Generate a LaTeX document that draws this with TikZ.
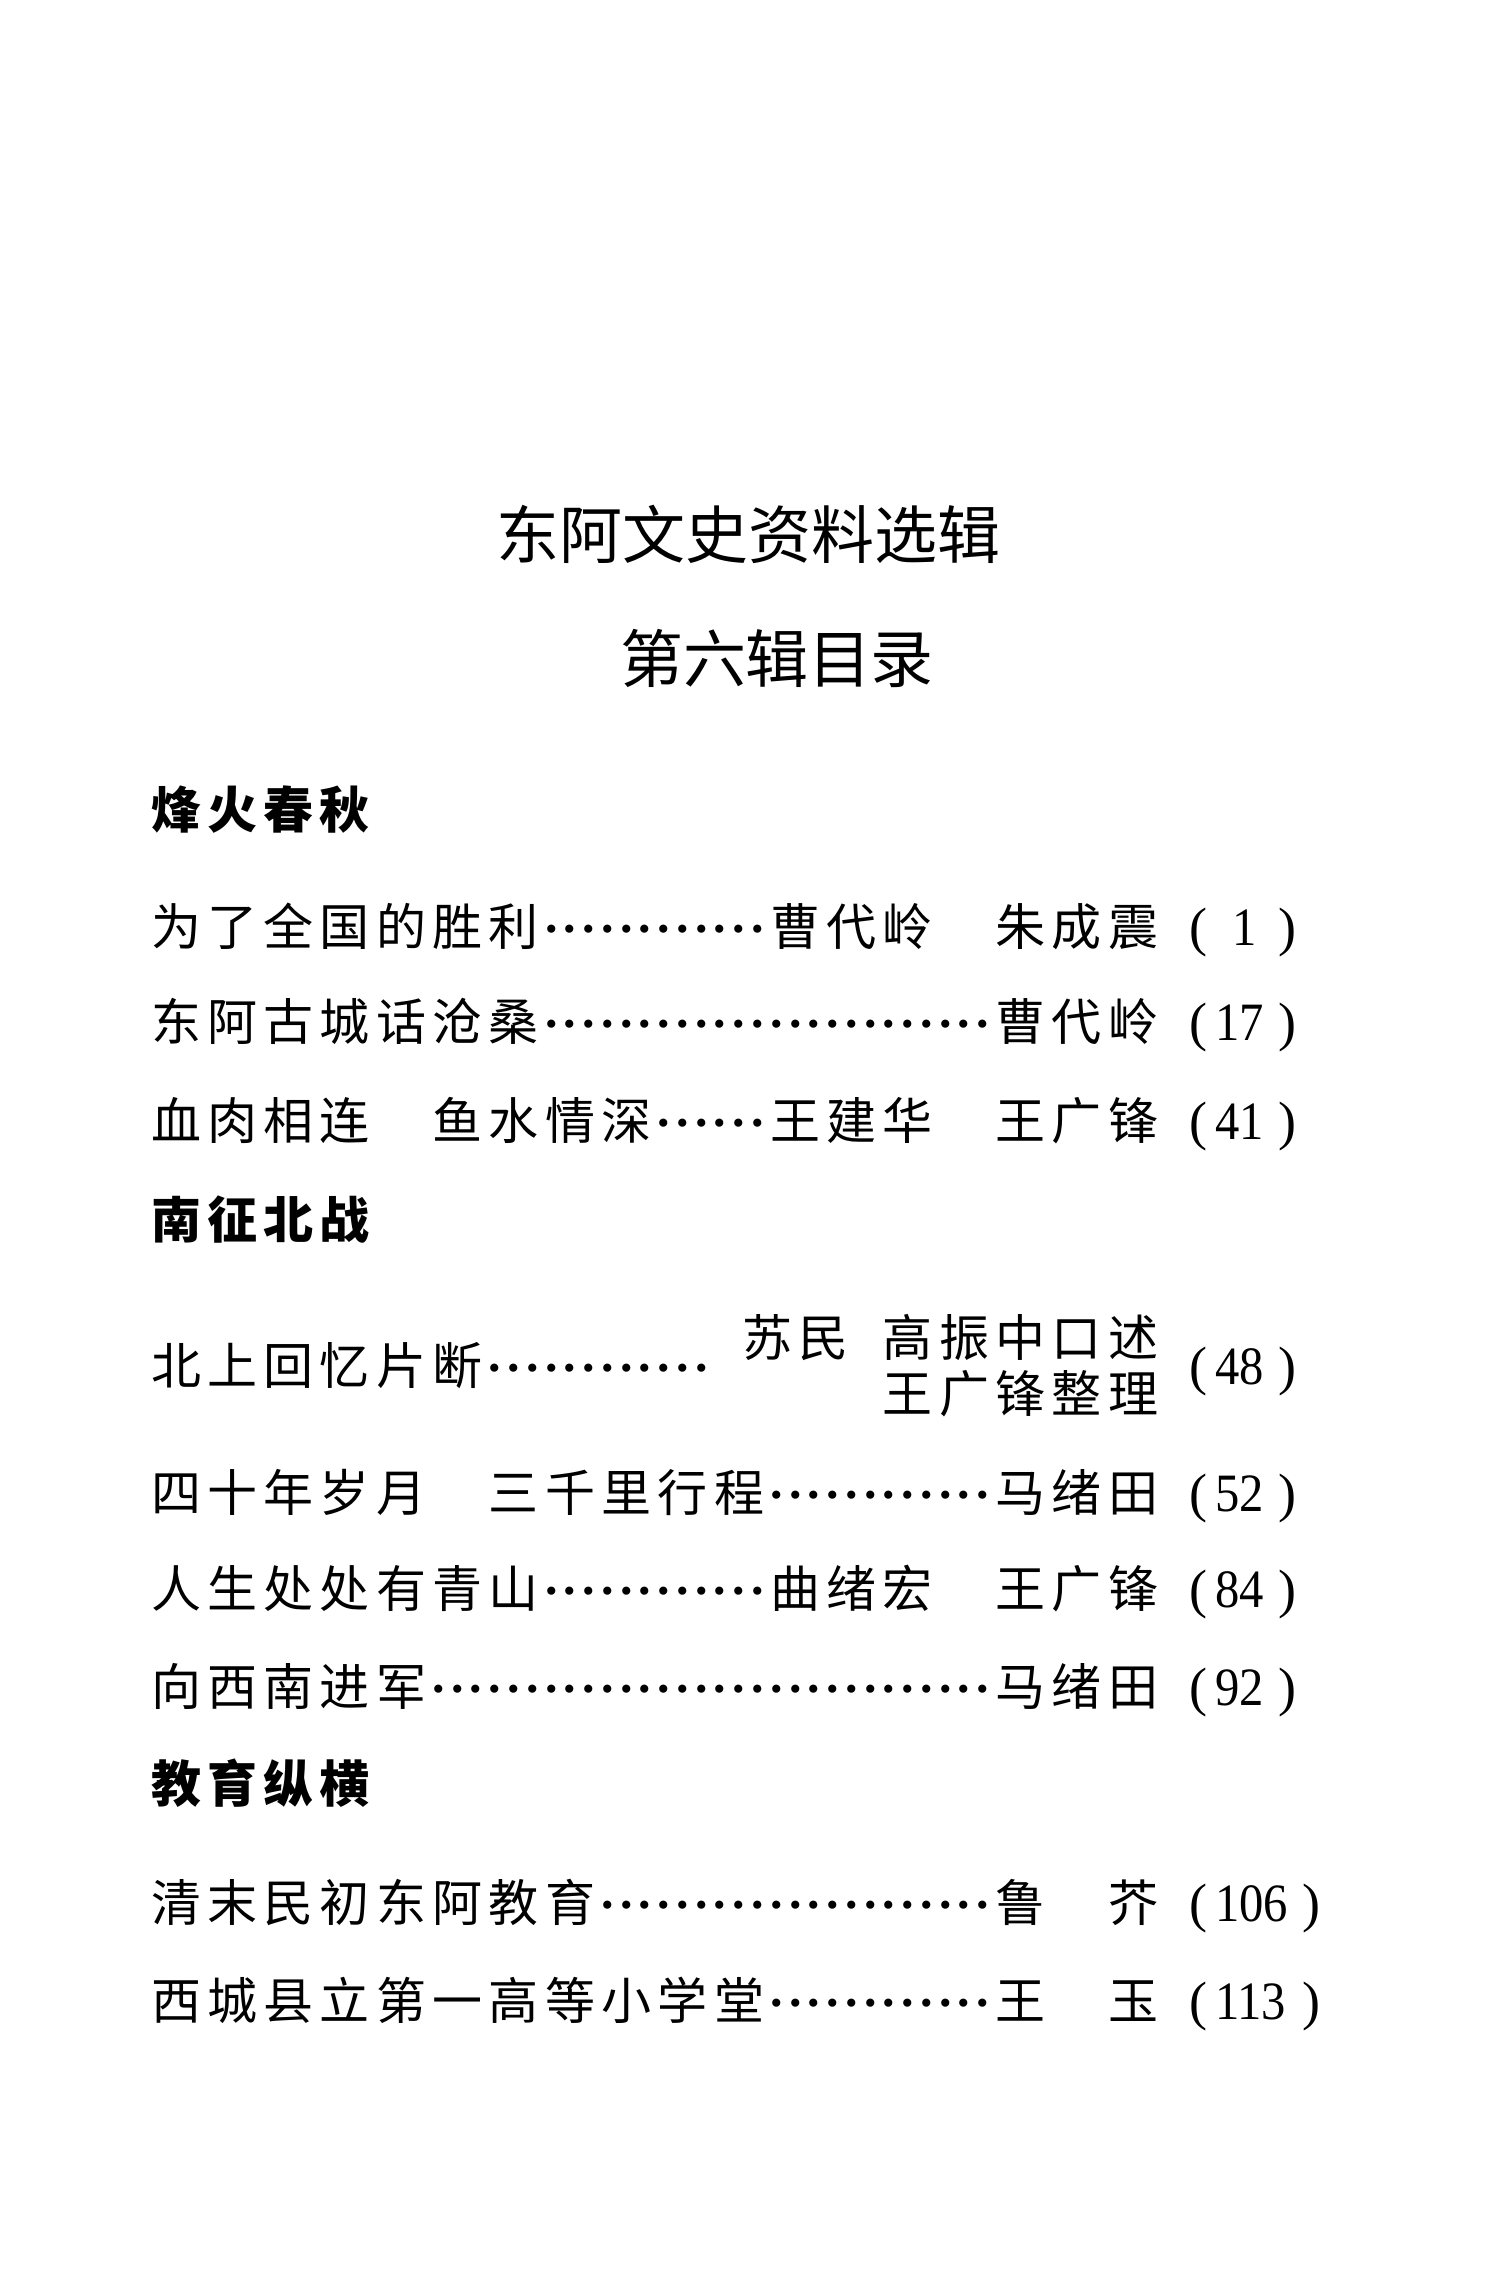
\documentclass[tikz,border=0pt]{standalone}
\usepackage{fontspec}
\newfontfamily\cjk{Noto Sans CJK SC}
\newfontfamily\lat{Liberation Serif}
\newlength\cw
\newlength\dw
\setlength\dw{9.3833pt}
\makeatletter
\newcommand\spaced[2]{\setlength\cw{#1}\sp@ced#2\relax}
\def\sp@ced#1{\ifx\relax#1\else\makebox[\cw][c]{#1}\expandafter\sp@ced\fi}
\makeatother
\newcommand\leaderdts[1]{\foreach\i in {1,...,#1}{\makebox[\dw][c]{.}}}
\tikzset{
  txt/.style={inner sep=0pt, outer sep=0pt, anchor=base west},
  body/.style={txt, font=\cjk\fontsize{25pt}{25pt}\selectfont},
  head/.style={txt, font=\cjk\bfseries\fontsize{25pt}{25pt}\selectfont},
  ttl/.style={inner sep=0pt, outer sep=0pt, anchor=base, font=\cjk\fontsize{31.5pt}{31.5pt}\selectfont},
  dotrow/.style={txt, font=\lat\bfseries\fontsize{25pt}{25pt}\selectfont},
  pn/.style={inner sep=0pt, outer sep=0pt, font=\lat\fontsize{27pt}{27pt}\selectfont},
}
% #1 name, #2 baseline y, #3 digits, #4 right paren x
\newcommand\pagenum[4]{%
  \node[pn, anchor=base west] (#1l) at (1189,#2) {(};
  \node[pn, anchor=base west] (#1n) at (1215,#2) {\scalebox{0.9}[1]{#3}};
  \node[pn, anchor=base east] (#1r) at (#4,#2) {)};
}
\begin{document}
\begin{tikzpicture}[x=0.5pt,y=-0.5pt]
\fill[white] (0,0) rectangle (1486,2269);
\useasboundingbox (0,0) rectangle (1486,2269);

% titles
\node[ttl] (title) at (748,558) {\spaced{31.5pt}{东阿文史资料选辑}};
\node[ttl] (subtitle) at (777,682) {\spaced{31.25pt}{第六辑目录}};

% section 1
\node[head] (h1) at (147.85,828) {\spaced{28.15pt}{烽火春秋}};

\node[body] (e1t) at (147.85,945) {\spaced{28.15pt}{为了全国的胜利}};
\node[dotrow] (e1d) at (541.95,932) {\leaderdts{12}};
\node[body] (e1a) at (767.15,945) {\spaced{28.15pt}{曹代岭　朱成震}};
\node[pn, anchor=base west] (e1l) at (1189,945) {(};
\node[pn, anchor=base] (e1n) at (1245,945) {\scalebox{0.9}[1]{1}};
\node[pn, anchor=base east] (e1r) at (1296,945) {)};

\node[body] (e2t) at (147.85,1040) {\spaced{28.15pt}{东阿古城话沧桑}};
\node[dotrow] (e2d) at (541.95,1027) {\leaderdts{24}};
\node[body] (e2a) at (992.35,1040) {\spaced{28.15pt}{曹代岭}};
\pagenum{e2}{1040}{17}{1296}

\node[body] (e3t) at (147.85,1139) {\spaced{28.15pt}{血肉相连　鱼水情深}};
\node[dotrow] (e3d) at (654.55,1126) {\leaderdts{6}};
\node[body] (e3a) at (767.15,1139) {\spaced{28.15pt}{王建华　王广锋}};
\pagenum{e3}{1139}{41}{1296}

% section 2
\node[head] (h2) at (147.85,1238) {\spaced{28.15pt}{南征北战}};

\node[body] (e4t) at (147.85,1384) {\spaced{28.15pt}{北上回忆片断}};
\node[dotrow] (e4d) at (485.65,1371) {\leaderdts{12}};
\node[body] (e4a) at (739.0,1356) {\spaced{28.15pt}{苏民}};
\node[body] (e4b) at (879.75,1356) {\spaced{28.15pt}{高振中口述}};
\node[body] (e4c) at (879.75,1412) {\spaced{28.15pt}{王广锋整理}};
\pagenum{e4}{1384}{48}{1296}

\node[body] (e5t) at (147.85,1511) {\spaced{28.15pt}{四十年岁月　三千里行程}};
\node[dotrow] (e5d) at (767.15,1498) {\leaderdts{12}};
\node[body] (e5a) at (992.35,1511) {\spaced{28.15pt}{马绪田}};
\pagenum{e5}{1511}{52}{1296}

\node[body] (e6t) at (147.85,1607) {\spaced{28.15pt}{人生处处有青山}};
\node[dotrow] (e6d) at (541.95,1594) {\leaderdts{12}};
\node[body] (e6a) at (767.15,1607) {\spaced{28.15pt}{曲绪宏　王广锋}};
\pagenum{e6}{1607}{84}{1296}

\node[body] (e7t) at (147.85,1705) {\spaced{28.15pt}{向西南进军}};
\node[dotrow] (e7d) at (429.35,1692) {\leaderdts{30}};
\node[body] (e7a) at (992.35,1705) {\spaced{28.15pt}{马绪田}};
\pagenum{e7}{1705}{92}{1296}

% section 3
\node[head] (h3) at (147.85,1802) {\spaced{28.15pt}{教育纵横}};

\node[body] (e8t) at (147.85,1921) {\spaced{28.15pt}{清末民初东阿教育}};
\node[dotrow] (e8d) at (598.25,1908) {\leaderdts{21}};
\node[body] (e8a) at (992.35,1921) {\spaced{28.15pt}{鲁　芥}};
\pagenum{e8}{1921}{106}{1320}

\node[body] (e9t) at (147.85,2019) {\spaced{28.15pt}{西城县立第一高等小学堂}};
\node[dotrow] (e9d) at (767.15,2006) {\leaderdts{12}};
\node[body] (e9a) at (992.35,2019) {\spaced{28.15pt}{王　玉}};
\pagenum{e9}{2019}{113}{1320}
\end{tikzpicture}
\end{document}
